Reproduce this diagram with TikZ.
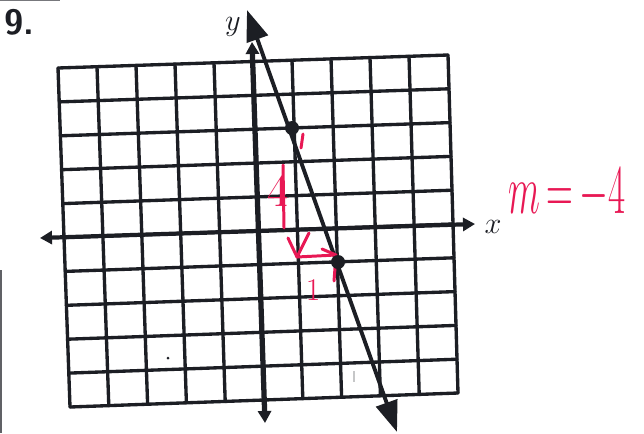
\documentclass[tikz,border=0pt]{standalone}
\usetikzlibrary{calc,arrows.meta}
\definecolor{ink}{RGB}{28,30,36}
\definecolor{pen}{RGB}{232,24,84}
\begin{document}
\begin{tikzpicture}[x=0.02cm,y=-0.02cm,
  gridline/.style={ink,line width=1.9pt,line cap=round},
  axisline/.style={ink,line width=2.4pt,{Triangle[length=0.24cm,width=0.26cm]}-{Triangle[length=0.24cm,width=0.26cm]}},
  graphline/.style={ink,line width=2.2pt,{Triangle[length=0.62cm,width=0.44cm]}-{Triangle[length=0.62cm,width=0.44cm]}},
  ptdot/.style={circle,fill=ink,inner sep=0pt,minimum size=0.28cm},
  redpen/.style={pen,line width=1.7pt,line cap=round,line join=round},
  redtext/.style={pen,inner sep=0pt},
  lbl/.style={ink,inner sep=0pt}
]
\useasboundingbox (0,0) rectangle (644,433);
\fill[white] (0,0) rectangle (644,433);
% scan edges
\draw[ink!70,line width=1pt] (1,270) -- (1,433);
\draw[ink!60,line width=0.6pt] (0,0.5) -- (60,0.5);
% grid corners
\coordinate (TL) at (58,68);
\coordinate (TR) at (448,55);
\coordinate (BL) at (70,407);
\coordinate (BR) at (458,393);
\foreach \i in {0,...,10}{
  \draw[gridline] ($(TL)!\i/10!(TR)$) -- ($(BL)!\i/10!(BR)$);
  \draw[gridline] ($(TL)!\i/10!(BL)$) -- ($(TR)!\i/10!(BR)$);
}
% axes
\coordinate (xl) at (40,238);
\coordinate (xr) at (475,224);
\coordinate (yt) at (252,42);
\coordinate (yb) at (265,423);
\draw[axisline] (xl) -- (xr);
\draw[axisline,line width=3pt] (yb) -- (yt);
% graphed line
\coordinate (lt) at (247,10);
\coordinate (lb) at (397,432);
\draw[graphline] (lt) -- (lb);
% red annotations
\draw[redpen] (303,134) -- (301,148);
\draw[redpen] (283,165) -- (284,228);
\node[redtext,font=\fontsize{26}{26}\selectfont] (four) at (278,191) {4};
\draw[redpen] (288,238) -- (297,257) -- (309,233);
\coordinate (runs) at (297,257);
\coordinate (rune) at (336,255);
\draw[redpen] (runs) -- (rune);
\draw[redpen] (322,249) -- (rune) -- (334,281);
\node[redtext,font=\fontsize{18}{18}\selectfont] (one) at (313,290) {1};
\node[redtext] (slope) at (567,194) {\scalebox{0.85}[1.6]{\fontsize{24}{24}\selectfont$m\,{=}\,{-}4$}};
% points
\node[ptdot] (p1) at (292,128) {};
\node[ptdot] (p2) at (338,262) {};
% labels
\node[lbl,anchor=north west,font=\sffamily\bfseries\fontsize{20}{20}\selectfont] (num) at (4,9) {9.};
\node[lbl,font=\fontsize{18}{18}\selectfont] (ylab) at (233,27) {$y$};
\node[lbl,font=\fontsize{18}{18}\selectfont] (xlab) at (493,227) {$x$};
% specks
\fill[ink] (168,358) circle (1.5);
\draw[ink!25,line width=1pt] (354,371) -- (354,382);
\end{tikzpicture}
\end{document}
